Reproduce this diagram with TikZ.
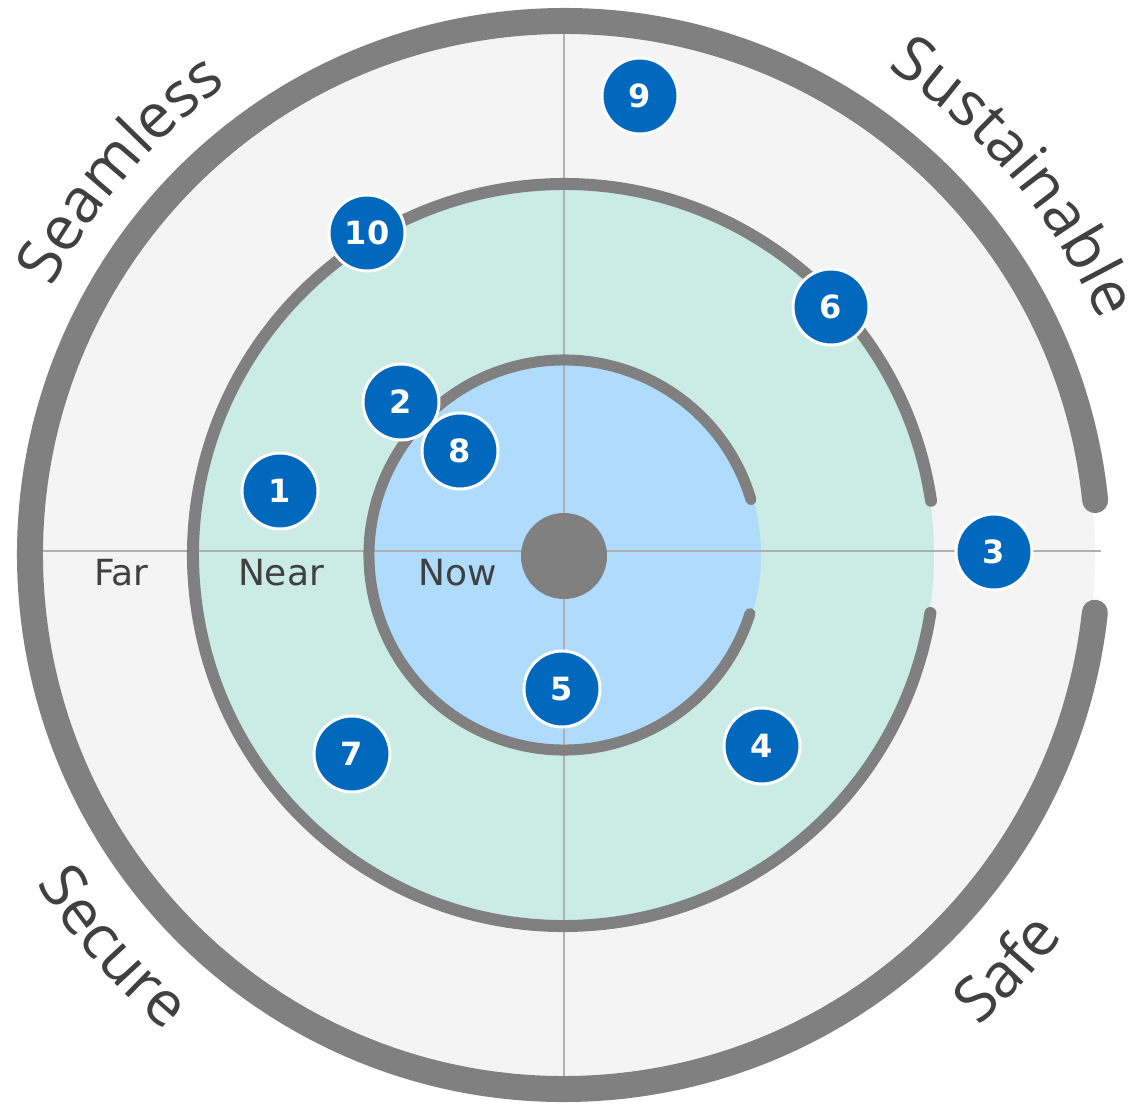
\documentclass[tikz,border=0pt]{standalone}
\usepackage{fontspec}
\setmainfont{DejaVu Sans}
\newfontfamily\arcfont{Open Sans}
\usetikzlibrary{decorations.text}

\definecolor{ringgray}{HTML}{808080}
\definecolor{farfill}{HTML}{F4F4F4}
\definecolor{nearfill}{HTML}{CBEBE5}
\definecolor{nowfill}{HTML}{AFDBFD}
\definecolor{bubbleblue}{HTML}{0068BD}
\definecolor{axisgray}{HTML}{B0B0B0}
\definecolor{labelgray}{HTML}{404040}

\begin{document}
\begin{tikzpicture}[x=1pt,y=1pt,
  ring/.style={draw=ringgray, line cap=round},
  axisline/.style={draw=axisgray, line width=1.5pt},
  zonelabel/.style={text=labelgray, font=\fontsize{36}{36}\selectfont, anchor=base, inner sep=0pt},
  bubble/.style={circle, fill=bubbleblue, draw=white, line width=3pt,
    minimum size=76pt, inner sep=0pt, text=white,
    font=\fontsize{32}{32}\selectfont\bfseries},
  arclabel/.style={decorate, decoration={text along path, text align=center,
    text={|\arcfont\fontsize{62}{62}\selectfont\color{labelgray}|#1}}}
]
\useasboundingbox (-564,-549) rectangle (574,555);

% zone fills
\fill[farfill] (0,0) circle[radius=531pt];
\fill[nearfill] (0,0) circle[radius=370pt];
\fill[nowfill] (0,0) circle[radius=197pt];

% axes
\coordinate (axL) at (-522,4);
\coordinate (axR) at (537,4);
\coordinate (axT) at (0,521);
\coordinate (axB) at (0,-523);
\draw[axisline] (axL) -- (axR);
\draw[axisline] (axT) -- (axB);

% zone rings, open on the right
\draw[ring, line width=26pt] (5.9:534pt) arc[start angle=5.9, end angle=353.8, radius=534pt];
\draw[ring, line width=12pt] (8.4:371pt) arc[start angle=8.4, end angle=351, radius=371pt];
\draw[ring, line width=11pt] (16.5:195pt) arc[start angle=16.5, end angle=342.5, radius=195pt];

% centre
\node[circle, fill=ringgray, minimum size=86pt, inner sep=0pt] (hub) at (0,-1) {};

% zone names
\node[zonelabel] (far) at (-442.5,-30) {Far};
\node[zonelabel] (near) at (-283,-30) {Near};
\node[zonelabel] (now) at (-106.5,-30) {Now};

% items
\node[bubble] (b1) at (-284,64) {1};
\node[bubble] (b2) at (-163,153) {2};
\node[bubble] (b3) at (430,3) {3};
\node[bubble] (b4) at (198,-191) {4};
\node[bubble] (b5) at (-2,-134) {5};
\node[bubble] (b6) at (267,248) {6};
\node[bubble] (b7) at (-212,-199) {7};
\node[bubble] (b8) at (-104,104) {8};
\node[bubble] (b9) at (76,459) {9};
\node[bubble] (b10) at (-197,322) {10};

% quadrant titles along the rim
\path[arclabel=Seamless] (179:578pt) arc[start angle=179, end angle=99, radius=578pt];
\path[arclabel=Sustainable] (80:585pt) arc[start angle=80, end angle=0, radius=585pt];
\path[arclabel=Secure] (181:621pt) arc[start angle=181, end angle=261, radius=621pt];
\path[arclabel=Safe] (277:628pt) arc[start angle=277, end angle=357, radius=628pt];
\end{tikzpicture}
\end{document}
